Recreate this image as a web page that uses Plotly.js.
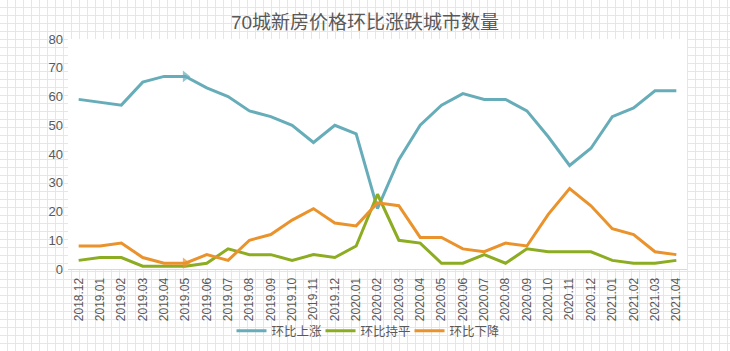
<!DOCTYPE html>
<html>
<head>
<meta charset="utf-8">
<script src="https://cdn.plot.ly/plotly-3.0.1.min.js"></script>
<style>
html,body{margin:0;padding:0;}
body{
  width:730px;height:351px;overflow:hidden;background:#fff;
  background-image:linear-gradient(to right,#e6e6e6 1px,transparent 1px),linear-gradient(to bottom,#e6e6e6 1px,transparent 1px);
  background-size:8px 8px;background-position:7px 7px;
}
#chart{width:730px;height:351px;}
</style>
</head>
<body>
<div id="chart"></div>
<script>
const months = ["2018.12","2019.01","2019.02","2019.03","2019.04","2019.05","2019.06","2019.07","2019.08","2019.09","2019.10","2019.11","2019.12","2020.01","2020.02","2020.03","2020.04","2020.05","2020.06","2020.07","2020.08","2020.09","2020.10","2020.11","2020.12","2021.01","2021.02","2021.03","2021.04"];
const rise = [59,58,57,65,67,67,63,60,55,53,50,44,50,47,21,38,50,57,61,59,59,55,46,36,42,53,56,62,62];
const flat = [3,4,4,1,1,1,2,7,5,5,3,5,4,8,26,10,9,2,2,5,2,7,6,6,6,3,2,2,3];
const fall = [8,8,9,4,2,2,5,3,10,12,17,21,16,15,23,22,11,11,7,6,9,8,19,28,22,14,12,6,5];
const names = ["环比上涨","环比持平","环比下降"];
const colors = ["#67adb9","#8cac22","#ea922b"];
const arrowAt = "2019.05";

const txt = "#595959";
const fam = "Liberation Sans, Arial, Noto Sans CJK SC, sans-serif";

function mk(vals, i, arrow){
  const t = {x: months, y: vals, name: names[i], type: "scatter",
    mode: arrow ? "lines+markers" : "lines",
    line: {color: colors[i], width: 3}, hoverinfo: "x+y"};
  if (arrow) {
    t.marker = {symbol: "triangle-right", color: colors[i],
      size: months.map(m => m === arrowAt ? 10 : 0), line: {width: 0}};
  }
  return t;
}
const data = [mk(rise,0,true), mk(flat,1,false), mk(fall,2,true)];

const layout = {
  width: 730, height: 351,
  margin: {l: 68, r: 43, t: 39, b: 82},
  paper_bgcolor: "rgba(0,0,0,0)",
  plot_bgcolor: "#ffffff",
  font: {family: fam, color: txt, size: 12},
  title: {text: "70城新房价格环比涨跌城市数量", font: {size: 19, color: txt, family: fam},
    x: 0.5, xref: "container", y: 1 - 22/351, yref: "container", yanchor: "middle"},
  xaxis: {type: "category", tickangle: -90, showgrid: false, zeroline: false,
    showline: true, linecolor: "#d9d9d9", linewidth: 1, ticks: "", ticklabelstandoff: 3,
    tickfont: {size: 12, color: txt}, range: [-0.5, months.length - 0.5]},
  yaxis: {range: [0, 80], dtick: 10, showgrid: false, zeroline: false, showline: false,
    ticks: "", ticklabelstandoff: 4, tickfont: {size: 13, color: txt}, fixedrange: true},
  showlegend: true,
  legend: {orientation: "h", xref: "container", x: 0.5, xanchor: "center",
    yref: "container", y: 1 - 331/351, yanchor: "middle",
    entrywidth: 44, entrywidthmode: "pixels",
    font: {size: 12.5, color: txt}, bgcolor: "rgba(0,0,0,0)", itemwidth: 30, tracegroupgap: 0},
};
Plotly.newPlot("chart", data, layout, {displayModeBar: false, staticPlot: true});
</script>
</body>
</html>
